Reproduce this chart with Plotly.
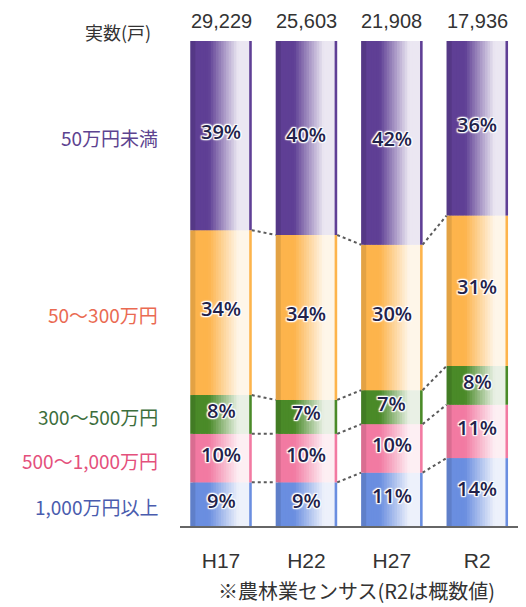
"""農業産出額規模別の経営体割合（100%積み上げ棒グラフ）"""
import numpy as np
import plotly.graph_objects as go

# データ
years = ["H17", "H22", "H27", "R2"]
totals = ["29,229", "25,603", "21,908", "17,936"]
classes = ["1,000万円以上", "500〜1,000万円", "300〜500万円", "50〜300万円", "50万円未満"]
pct_over1000 = [9, 9, 11, 14]
pct_500_1000 = [10, 10, 10, 11]
pct_300_500 = [8, 7, 7, 8]
pct_50_300 = [34, 34, 30, 31]
pct_under50 = [39, 40, 42, 36]

# 色（棒、左ラベル）
BAR_COLORS = ["#6a8ee0", "#f27aa2", "#4a8a28", "#fdb44c", "#5f3f95"]
LABEL_COLORS = ["#4a5cae", "#e4507c", "#3c6e3c", "#ea6a52", "#5d4390"]

FONT_JP = "Noto Sans CJK JP"
BAR_W = 0.72
N_SLICE = 24
HALO = ("white 0px 0px 2px, white 0px 0px 2px, white 0px 0px 3px, "
        "white 1px 1px 1px, white -1px -1px 1px, white 1px -1px 1px, white -1px 1px 1px")

series = [pct_over1000, pct_500_1000, pct_300_500, pct_50_300, pct_under50]
vals = np.array(series, dtype=float)          # (5, 4)
base = np.vstack([np.zeros(4), np.cumsum(vals, axis=0)[:-1]])
xpos = np.arange(len(years))


def hex_rgb(h):
    h = h.lstrip("#")
    return np.array([int(h[i:i + 2], 16) for i in (0, 2, 4)], dtype=float)


def white_mix(t):
    """円柱風のハイライト（左が濃く、右寄りで白、右端に細い縁）。"""
    if t < 0.3:
        return 0.0
    if t < 0.78:
        return 0.88 * (t - 0.3) / 0.48
    if t < 0.94:
        return 0.88
    return 0.0


fig = go.Figure()

# 棒（横方向のグラデーションを細いスライスで表現、重ねて隙間を消す）
sw = BAR_W / N_SLICE
for s in range(N_SLICE):
    t = (s + 0.5) / N_SLICE
    m = white_mix(t)
    cols = []
    for k in range(len(series)):
        rgb = hex_rgb(BAR_COLORS[k]) * (1 - m) + 255 * m
        if t < 0.1:
            rgb = rgb * 0.9
        cols.append("rgb(%d,%d,%d)" % tuple(rgb.astype(int)))
    w = sw if s == N_SLICE - 1 else sw * 2
    fig.add_trace(go.Bar(
        x=np.tile(xpos, len(series)),
        y=vals.flatten(),
        base=base.flatten(),
        width=w,
        offset=-BAR_W / 2 + s * sw,
        marker=dict(color=np.repeat(cols, len(years)).tolist(), line_width=0),
        hoverinfo="skip",
        showlegend=False,
    ))

# 点線（棒の間をつなぐ）
cum = np.cumsum(vals, axis=0)
for k in range(len(series) - 1):
    for i in range(len(years) - 1):
        fig.add_trace(go.Scatter(
            x=[xpos[i] + BAR_W / 2, xpos[i + 1] - BAR_W / 2],
            y=[cum[k, i], cum[k, i + 1]],
            mode="lines",
            line=dict(color="#5a5a5a", width=2, dash="dot"),
            hoverinfo="skip",
            showlegend=False,
        ))

# パーセント表示
for k in range(len(series)):
    for i in range(len(years)):
        fig.add_annotation(
            x=xpos[i], y=base[k, i] + vals[k, i] / 2,
            text=f"{int(vals[k, i])}%", showarrow=False, yshift=4,
            font=dict(family="Open Sans", size=20, color="#22224a",
                      weight=600, shadow=HALO),
        )

# 実数
for i, t in enumerate(totals):
    fig.add_annotation(x=xpos[i], y=1, xref="x", yref="paper", text=t,
                       showarrow=False, yanchor="middle", yshift=20,
                       font=dict(family="Liberation Sans", size=20, color="#333333"))
fig.add_annotation(x=0, y=1, xref="paper", yref="paper", text="実数(戸)",
                   showarrow=False, xanchor="right", yanchor="middle",
                   xshift=-27, yshift=9,
                   font=dict(family=FONT_JP, size=18, color="#333333"))

# 左側の区分ラベル（H17の各区分の中央）
for k, name in enumerate(classes):
    fig.add_annotation(x=0, y=base[k, 0] + vals[k, 0] / 2, xref="paper", yref="y",
                       text=name, showarrow=False, xanchor="right", yanchor="middle",
                       xshift=-20, yshift=-2,
                       font=dict(family=FONT_JP, size=19, color=LABEL_COLORS[k]))

# 出典
fig.add_annotation(x=0.52, y=0, xref="paper", yref="paper",
                   text="※農林業センサス(R2は概数値)", showarrow=False,
                   yanchor="middle", yshift=-64,
                   font=dict(family=FONT_JP, size=20, color="#333333"))

# ページ余白 8px 分を差し引いた大きさ
fig.update_layout(
    width=518,
    height=599,
    barmode="overlay",
    plot_bgcolor="white",
    paper_bgcolor="white",
    margin=dict(l=172, r=6, t=33, b=81),
    showlegend=False,
)
fig.update_xaxes(
    range=[-0.48, 3.5],
    tickvals=xpos,
    ticktext=years,
    showgrid=False,
    zeroline=False,
    showline=True,
    linecolor="#666666",
    linewidth=2,
    ticks="",
    ticklabelstandoff=15,
    tickfont=dict(family="Liberation Sans", size=21, color="#333333"),
)
fig.update_yaxes(range=[0, 100], visible=False)

fig.write_html("out.html")
